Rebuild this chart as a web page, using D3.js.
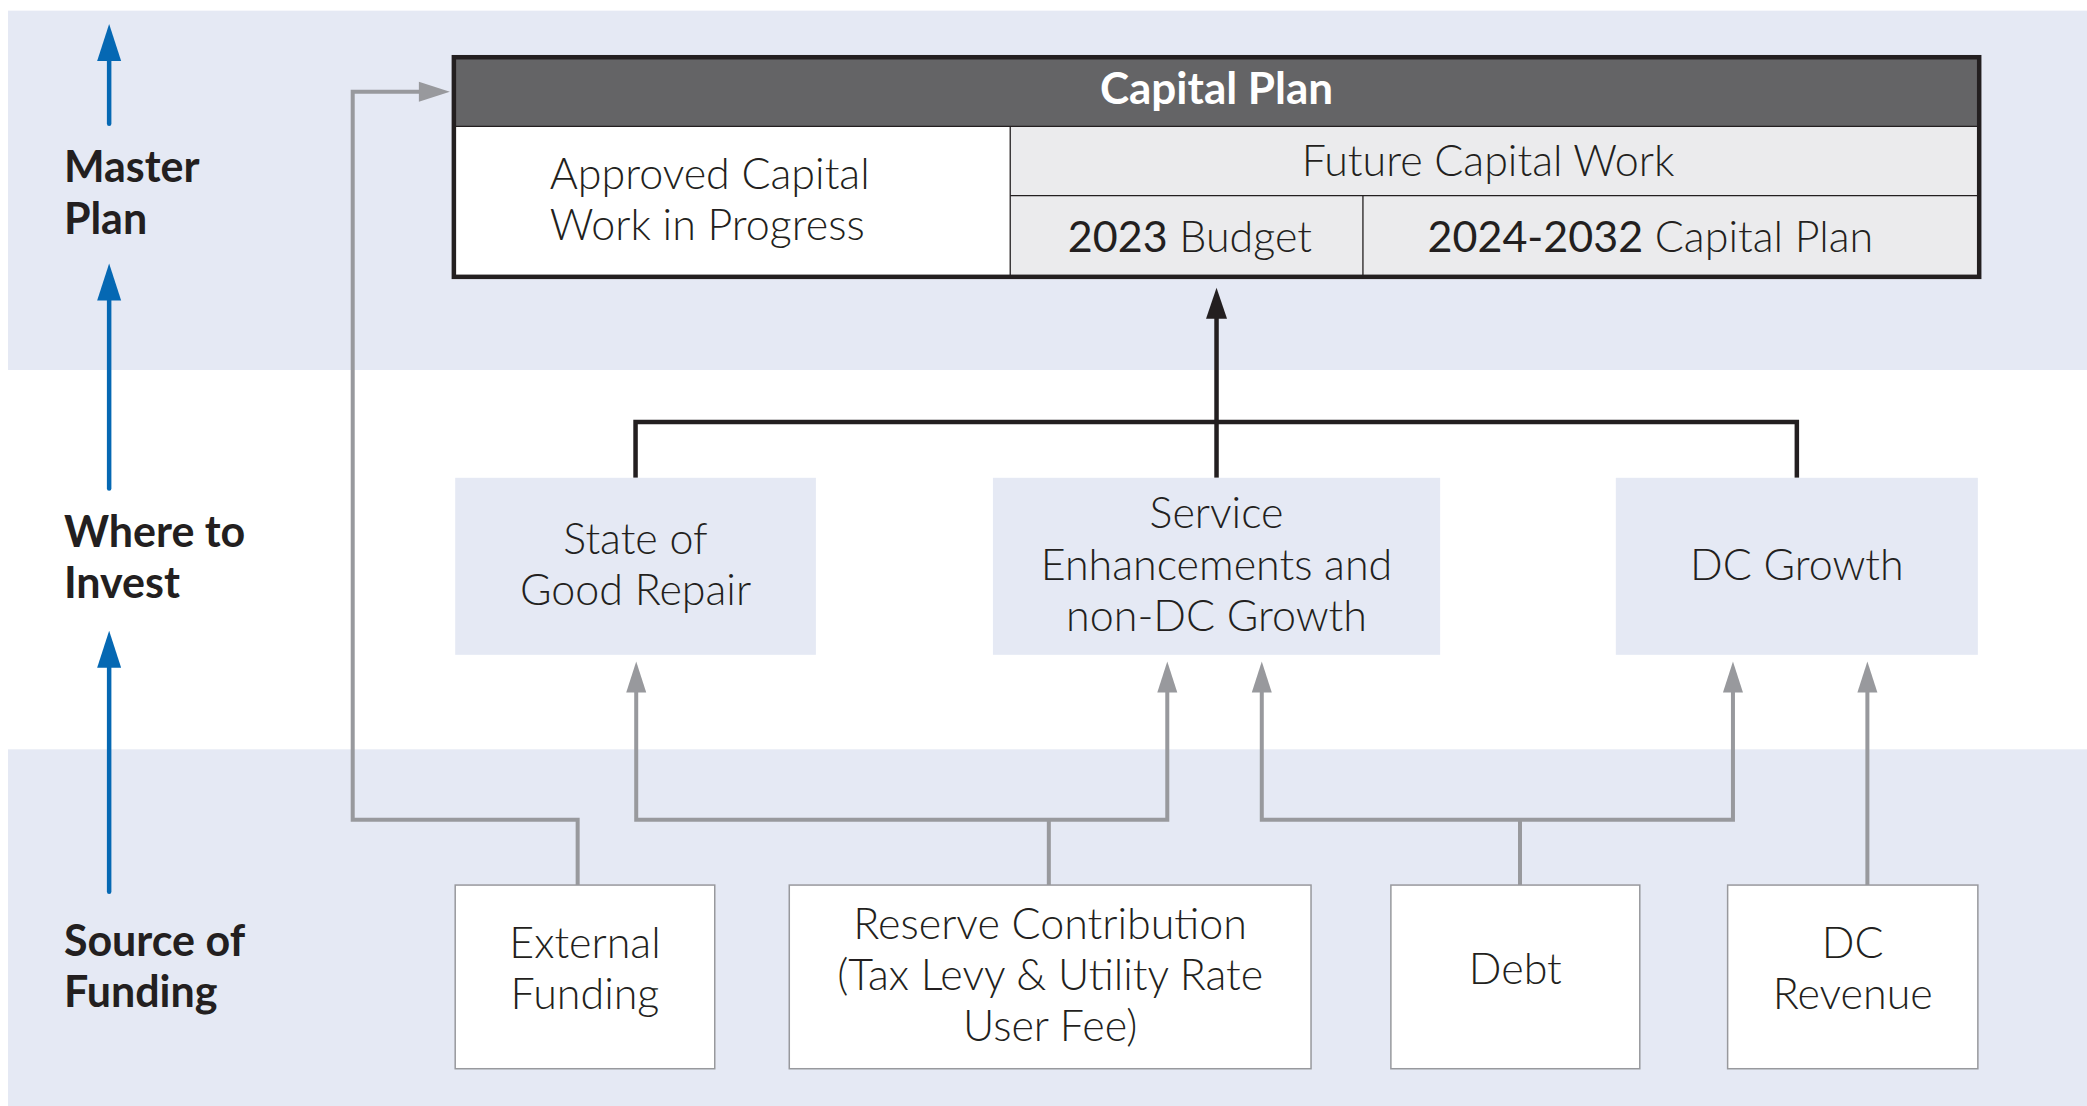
<!DOCTYPE html>
<html>
<head>
<meta charset="utf-8">
<script src="https://cdn.jsdelivr.net/npm/d3@7"></script>
<style>
  body { margin: 0; background: #fff; }
  svg text { font-family: "Lato", "Open Sans", sans-serif; fill: #231f20; }
</style>
</head>
<body>
<div class="main"></div>
<script>
// ---- data: labels of the diagram
const tierLabels = [["Master", "Plan"], ["Where to", "Invest"], ["Source of", "Funding"]];
const planTitle = "Capital Plan";
// cells: [number part, word part] per line
const planCells = [["Approved Capital", "Work in Progress"], ["Future Capital Work"]];
const planYears = [["2023", " Budget"], ["2024-2032", " Capital Plan"]];
const investAreas = [["State of", "Good Repair"], ["Service", "Enhancements and", "non-DC Growth"], ["DC Growth"]];
const fundingSources = [["External", "Funding"], ["Reserve Contribution", "(Tax Levy & Utility Rate", "User Fee)"], ["Debt"], ["DC", "Revenue"]];
// which invest areas each funding source feeds (-1 = capital plan itself)
const fundingLinks = [[-1], [0, 1], [1, 2], [2]];

// ---- layout, in units of the 1568 wide drawing grid
const W = 2087, H = 1106;
const x = d3.scaleLinear().domain([0, 1568]).range([0, W]);
const y = d3.scaleLinear().domain([0, 831]).range([0, H]);

const bands = [[8, 278], [563, 831]];
const tierArrows = [[18, 93], [198, 367], [474, 670]];
const tierBase = [137, 411, 718];
const plan = {x0: 341, x1: 1487, y0: 43, y1: 208, head: 95, split: 759, row: 147, sub: 1024};
const investBoxes = [[342, 613], [746, 1082], [1214, 1486]];
const investY = [359, 492];
const fundBoxes = [[342, 537], [593, 985], [1045, 1232], [1298, 1486]];
const fundY = [665, 803];
const fundOut = [434, 788, 1142, 1403];           // where each source line leaves its box
const investIn = [[478], [877, 948], [1302, 1403]]; // arrow entry points below invest boxes
const busY = 616, topBusY = 317, extX = 265, extY = 69;

const blue = "#0568b3", grey = "#98999d", dark = "#231f20", lav = "#e5e9f4";
const lineH = 38.5, fs = 43;

const svg = d3.select(".main").append("svg")
    .attr("width", W)
    .attr("height", H);

// background bands
svg.selectAll("rect.band")
    .data(bands)
    .enter()
    .append("rect")
    .attr("class", "band")
    .attr("x", x(6))
    .attr("y", d => y(d[0]))
    .attr("width", x(1568) - x(6))
    .attr("height", d => y(d[1]) - y(d[0]))
    .style("fill", lav);

// arrow head helper: tip at (tx,ty), pointing up or right
function head(tx, ty, dir, len, wid, color) {
    let pts;
    if (dir === "up") pts = [[tx, ty], [tx - wid / 2, ty + len], [tx + wid / 2, ty + len]];
    else pts = [[tx, ty], [tx - len, ty - wid / 2], [tx - len, ty + wid / 2]];
    svg.append("path")
        .attr("d", "M" + pts.map(p => p.join(",")).join("L") + "Z")
        .style("fill", color);
}

function lines(g, rows, cx, baseline, anchor, size, weight, color) {
    const t = g.append("text")
        .attr("x", cx)
        .attr("y", baseline)
        .attr("text-anchor", anchor)
        .style("font-size", size + "px")
        .style("font-weight", weight)
        .style("fill", color || dark);
    rows.forEach((r, i) => {
        t.append("tspan").attr("x", cx).attr("y", baseline + i * y(lineH)).text(r);
    });
    return t;
}

// tier arrows (blue)
tierArrows.forEach(a => {
    svg.append("line")
        .attr("x1", x(82)).attr("x2", x(82))
        .attr("y1", y(a[0]) + 30).attr("y2", y(a[1]))
        .attr("stroke", blue)
        .attr("stroke-width", 4.5)
        .attr("stroke-linecap", "round");
    head(x(82), y(a[0]), "up", 37, 24, blue);
});

// tier labels
tierLabels.forEach((t, i) => {
    lines(svg, t, x(48), y(tierBase[i]), "start", fs, 700);
});

// ---- capital plan box
const pg = svg.append("g");
pg.append("rect")
    .attr("x", x(plan.split)).attr("y", y(plan.head))
    .attr("width", x(plan.x1) - x(plan.split)).attr("height", y(plan.y1) - y(plan.head))
    .style("fill", "#ebebed");
pg.append("rect")
    .attr("x", x(plan.x0)).attr("y", y(plan.head))
    .attr("width", x(plan.split) - x(plan.x0)).attr("height", y(plan.y1) - y(plan.head))
    .style("fill", "#fff");
pg.append("rect")
    .attr("x", x(plan.x0)).attr("y", y(plan.y0))
    .attr("width", x(plan.x1) - x(plan.x0)).attr("height", y(plan.head) - y(plan.y0))
    .style("fill", "#646466");
[[plan.split, plan.head, plan.split, plan.y1], [plan.sub, plan.row, plan.sub, plan.y1],
 [plan.split, plan.row, plan.x1, plan.row], [plan.x0, plan.head, plan.x1, plan.head]].forEach(l => {
    pg.append("line")
        .attr("x1", x(l[0])).attr("y1", y(l[1]))
        .attr("x2", x(l[2])).attr("y2", y(l[3]))
        .attr("stroke", dark)
        .attr("stroke-width", 1.3);
});
pg.append("rect")
    .attr("x", x(plan.x0)).attr("y", y(plan.y0))
    .attr("width", x(plan.x1) - x(plan.x0)).attr("height", y(plan.y1) - y(plan.y0))
    .style("fill", "none")
    .style("stroke", dark)
    .style("stroke-width", 4.5);

lines(pg, [planTitle], x((plan.x0 + plan.x1) / 2), y(78), "middle", 44, 700, "#fff");
lines(pg, planCells[0], x(413), y(142), "start", fs, 300);
lines(pg, planCells[1], x(1118), y(132), "middle", fs, 300);
[[894, 189], [1240, 189]].forEach((p, i) => {
    const t = pg.append("text")
        .attr("x", x(p[0]))
        .attr("y", y(p[1]))
        .attr("text-anchor", "middle")
        .style("font-size", fs + "px");
    t.append("tspan").style("font-weight", 400).text(planYears[i][0]);
    t.append("tspan").style("font-weight", 300).text(planYears[i][1]);
});

// ---- black connector from invest areas to plan
const cxs = investBoxes.map(b => (b[0] + b[1]) / 2);
svg.append("path")
    .attr("d", "M" + x(cxs[0]) + "," + y(investY[0]) + "V" + y(topBusY) + "H" + x(cxs[2]) + "V" + y(investY[0]))
    .style("fill", "none")
    .style("stroke", dark)
    .style("stroke-width", 4.5);
svg.append("line")
    .attr("x1", x(cxs[1])).attr("x2", x(cxs[1]))
    .attr("y1", y(investY[0])).attr("y2", y(plan.y1) + 30)
    .attr("stroke", dark)
    .attr("stroke-width", 4.5);
head(x(cxs[1]), y(plan.y1) + 11, "up", 31, 21, dark);

// ---- invest boxes
investBoxes.forEach((b, i) => {
    svg.append("rect")
        .attr("x", x(b[0])).attr("y", y(investY[0]))
        .attr("width", x(b[1]) - x(b[0])).attr("height", y(investY[1]) - y(investY[0]))
        .style("fill", lav);
    const rows = investAreas[i];
    const mid = (investY[0] + investY[1]) / 2;
    const base = mid - (rows.length - 1) * lineH / 2 + 10;
    lines(svg, rows, x((b[0] + b[1]) / 2), y(base), "middle", fs, 300);
});

// ---- grey funding connectors
function greyPath(d) {
    svg.append("path")
        .attr("d", d)
        .style("fill", "none")
        .style("stroke", grey)
        .style("stroke-width", 4)
        .style("stroke-linejoin", "miter");
}
const tipY = investY[1] + 5;
fundingLinks.forEach((targets, i) => {
    const sx = x(fundOut[i]);
    if (targets[0] === -1) {
        greyPath("M" + sx + "," + y(fundY[0]) + "V" + y(busY) + "H" + x(extX) + "V" + y(extY) + "H" + (x(plan.x0) - 28));
        head(x(plan.x0) - 4, y(extY), "right", 31, 20, grey);
    } else if (targets.length === 1) {
        greyPath("M" + sx + "," + y(fundY[0]) + "V" + (y(tipY) + 25));
        head(sx, y(tipY), "up", 31, 20, grey);
    } else {
        greyPath("M" + sx + "," + y(fundY[0]) + "V" + y(busY));
        // first target uses its left entry, second its right entry when shared
        const pts = targets.map((t, k) => investIn[t][k === 0 ? investIn[t].length - 1 : 0]);
        greyPath("M" + x(pts[0]) + "," + (y(tipY) + 25) + "V" + y(busY) + "H" + x(pts[1]) + "V" + (y(tipY) + 25));
        pts.forEach(p => head(x(p), y(tipY), "up", 31, 20, grey));
    }
});

// ---- funding boxes
fundBoxes.forEach((b, i) => {
    svg.append("rect")
        .attr("x", x(b[0])).attr("y", y(fundY[0]))
        .attr("width", x(b[1]) - x(b[0])).attr("height", y(fundY[1]) - y(fundY[0]))
        .style("fill", "#fff")
        .style("stroke", grey)
        .style("stroke-width", 1.5);
    const rows = fundingSources[i];
    const mid = (fundY[0] + fundY[1]) / 2;
    const base = mid - (rows.length - 1) * lineH / 2 + (rows.length < 3 ? 5 : 10);
    lines(svg, rows, x((b[0] + b[1]) / 2), y(base), "middle", fs, 300);
});
</script>
</body>
</html>
